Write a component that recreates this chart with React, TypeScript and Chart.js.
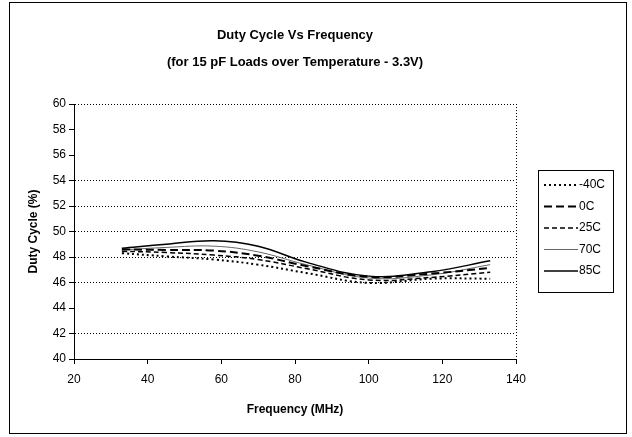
import React, { useEffect, useRef } from "react";
import { Chart, registerables } from "chart.js";

Chart.register(...registerables);

const FONT = "'Liberation Sans', Arial, sans-serif";

const titleLines = ["Duty Cycle Vs Frequency", "(for 15 pF Loads over Temperature - 3.3V)"];
const xTitle = "Frequency (MHz)";
const yTitle = "Duty Cycle (%)";

const frequencies = [33, 45, 58, 70, 83, 100, 117, 133];

const seriesNames = ["-40C", "0C", "25C", "70C", "85C"];
const dutyM40 = [48.3, 48.05, 47.8, 47.4, 46.75, 45.97, 46.3, 46.3];
const duty0 = [48.6, 48.55, 48.5, 48.1, 47.3, 46.45, 46.7, 47.15];
const duty25 = [48.45, 48.35, 48.15, 47.8, 47.1, 46.2, 46.4, 46.8];
const duty70 = [48.55, 48.75, 48.85, 48.4, 47.4, 46.35, 46.6, 47.4];
const duty85 = [48.68, 49.0, 49.28, 48.85, 47.6, 46.5, 46.85, 47.7];

const hiddenGrid = [44, 56, 58];

const styles = [
  { dash: [2, 3], width: 2, color: "#000" },
  { dash: [8, 4], width: 2, color: "#000" },
  { dash: [5, 3], width: 1.5, color: "#000" },
  { dash: [], width: 1, color: "#666" },
  { dash: [], width: 1.5, color: "#000" },
];

export default function App() {
  const ref = useRef<HTMLCanvasElement | null>(null);

  useEffect(() => {
    const canvas = ref.current;
    if (!canvas) return;
    const seriesValues = [dutyM40, duty0, duty25, duty70, duty85];
    const datasets = seriesNames.map((name, i) => ({
      label: name,
      data: frequencies.map((f, j) => ({ x: f, y: seriesValues[i][j] })),
      borderColor: styles[i].color,
      borderWidth: styles[i].width,
      borderDash: styles[i].dash,
      pointRadius: 0,
      tension: 0.4,
      fill: false,
    }));

    const decor = {
      id: "decor",
      afterDraw(chart: any) {
        const ctx = chart.ctx;
        const ca = chart.chartArea;
        ctx.save();
        // outer frame
        ctx.strokeStyle = "#000";
        ctx.lineWidth = 1;
        ctx.setLineDash([]);
        ctx.strokeRect(9.5, 2.5, 617, 431);
        // titles
        ctx.fillStyle = "#000";
        ctx.font = `bold 13px ${FONT}`;
        ctx.textAlign = "center";
        ctx.textBaseline = "middle";
        const cx = (ca.left + ca.right) / 2;
        ctx.fillText(titleLines[0], cx, 35);
        ctx.fillText(titleLines[1], cx, 62);
        // legend
        const lx = 538, ly = 170, lw = 75, lh = 122;
        ctx.strokeRect(lx + 0.5, ly + 0.5, lw, lh);
        ctx.font = `12px ${FONT}`;
        ctx.textAlign = "left";
        chart.data.datasets.forEach((ds: any, i: number) => {
          const y = ly + 15 + i * 21.5;
          ctx.beginPath();
          ctx.strokeStyle = ds.borderColor;
          ctx.lineWidth = ds.borderWidth;
          ctx.setLineDash(ds.borderDash || []);
          ctx.moveTo(lx + 6, y);
          ctx.lineTo(lx + 40, y);
          ctx.stroke();
          ctx.setLineDash([]);
          ctx.fillStyle = "#000";
          ctx.fillText(ds.label, lx + 41, y);
        });
        ctx.restore();
      },
    };

    const chart = new Chart(canvas, {
      type: "line",
      data: { datasets },
      plugins: [decor],
      options: {
        animation: false,
        responsive: false,
        maintainAspectRatio: false,
        layout: { padding: { left: 26, top: 104, right: 116, bottom: 18 } },
        plugins: {
          legend: { display: false },
          title: { display: false },
          tooltip: { enabled: false },
        },
        scales: {
          x: {
            type: "linear",
            min: 20,
            max: 140,
            afterFit: (s: any) => {
              s.height = 60;
            },
            ticks: {
              stepSize: 20,
              color: "#000",
              padding: 8,
              font: { family: FONT, size: 12 },
            },
            grid: {
              drawOnChartArea: true,
              drawTicks: true,
              tickLength: 5,
              tickColor: "#000",
              color: (c: any) => (c.tick && c.tick.value === 140 ? "#000" : "rgba(0,0,0,0)"),
            },
            border: { color: "#000", width: 1, dash: [1, 2] },
            title: {
              display: true,
              text: xTitle,
              color: "#000",
              font: { family: FONT, size: 12, weight: "bold" },
              padding: { top: 0, bottom: 2 },
            },
          },
          y: {
            min: 40,
            max: 60,
            afterFit: (s: any) => {
              s.width = 48;
            },
            ticks: {
              stepSize: 2,
              color: "#000",
              padding: 3,
              font: { family: FONT, size: 12 },
            },
            grid: {
              drawOnChartArea: true,
              drawTicks: true,
              tickLength: 5,
              tickColor: "#000",
              color: (c: any) =>
                c.tick && hiddenGrid.includes(c.tick.value) ? "rgba(0,0,0,0)" : "#000",
            },
            border: { color: "#000", width: 1, dash: [1, 2] },
            title: {
              display: true,
              text: yTitle,
              color: "#000",
              font: { family: FONT, size: 12, weight: "bold" },
              padding: 0,
            },
          },
        },
      },
    } as any);
    return () => chart.destroy();
  }, []);

  return (
    <div style={{ position: "fixed", left: 0, top: 0, width: 632, height: 437, background: "#fff" }}>
      <canvas ref={ref} width={632} height={437} style={{ width: 632, height: 437 }} />
    </div>
  );
}
